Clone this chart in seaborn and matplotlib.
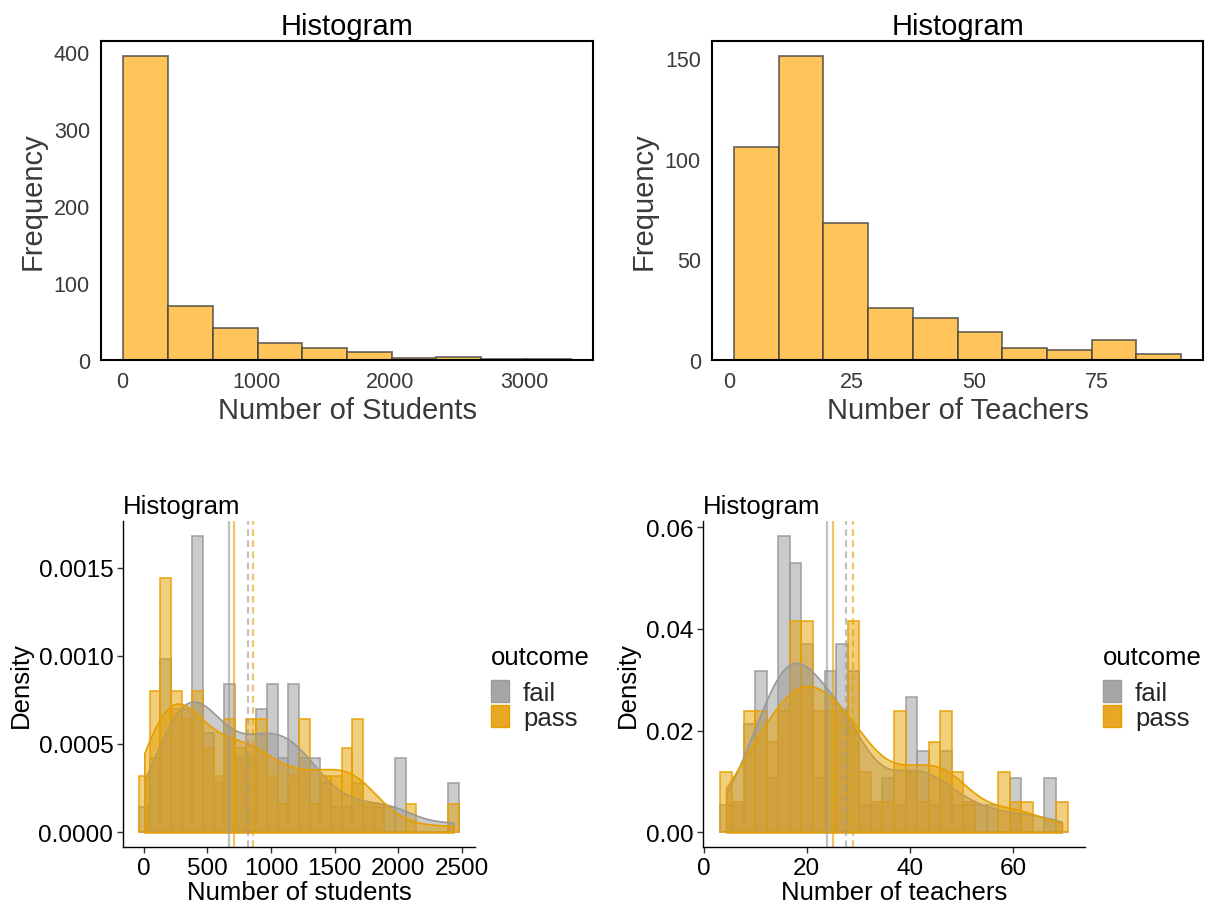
import numpy as np
import pandas as pd
import matplotlib
matplotlib.use("Agg")
import matplotlib.pyplot as plt
import seaborn as sns
from matplotlib.patches import Patch
from matplotlib.ticker import FormatStrFormatter

sns.set_theme(style="ticks")
plt.rcParams['font.family'] = ['Liberation Sans', 'DejaVu Sans']

# ---------------- data: top panels (frequency histograms) ----------------
students_bin_edges = [10, 344, 677, 1011, 1344, 1678, 2012, 2345, 2679, 3012, 3346]
students_counts = [395, 70, 42, 22, 16, 11, 2, 4, 1, 1]

teachers_bin_edges = [1.0, 10.1, 19.2, 28.4, 37.5, 46.6, 55.7, 64.8, 74.0, 83.1, 92.2]
teachers_counts = [106, 151, 68, 26, 21, 14, 6, 5, 10, 3]

# ---------------- data: bottom panels (density histograms by outcome) ----------------
outcomes = ["fail", "pass"]
stud_range = (-39, 2480)          # outer bin edges, 30 bins
stud_fail_density = [0.00014, 0.00042, 0.00098, 0.00070, 0.00070, 0.00168, 0.00056, 0.00028,
                     0.00084, 0.00042, 0.00042, 0.00070, 0.00084, 0.00042, 0.00084, 0.00042,
                     0.00042, 0.00028, 0.00014, 0.00014, 0.00028, 0.00014, 0.00014, 0.00014,
                     0.00042, 0.0, 0.0, 0.0, 0.0, 0.00028]
stud_pass_density = [0.00032, 0.00080, 0.00144, 0.00080, 0.00064, 0.00080, 0.00048, 0.00032,
                     0.00064, 0.00048, 0.00064, 0.00064, 0.00032, 0.00016, 0.00032, 0.00064,
                     0.00016, 0.00032, 0.00032, 0.00048, 0.00064, 0.00016, 0.00016, 0.0,
                     0.0, 0.00016, 0.0, 0.0, 0.0, 0.00016]
stud_median = [673, 712]   # fail, pass
stud_mean = [816, 858]

teach_range = (3.24, 70.6)
teach_fail_density = [0.0053, 0.0053, 0.0212, 0.0318, 0.0106, 0.0583, 0.0530, 0.0371, 0.0106,
                      0.0318, 0.0371, 0.0318, 0.0053, 0.0053, 0.0106, 0.0053, 0.0265, 0.0159,
                      0.0053, 0.0159, 0.0053, 0.0053, 0.0053, 0.0053, 0.0, 0.0106, 0.0, 0.0,
                      0.0106, 0.0]
teach_pass_density = [0.0119, 0.0059, 0.0238, 0.0238, 0.0178, 0.0238, 0.0416, 0.0416, 0.0238,
                      0.0238, 0.0238, 0.0416, 0.0119, 0.0059, 0.0059, 0.0238, 0.0119, 0.0059,
                      0.0178, 0.0238, 0.0119, 0.0059, 0.0, 0.0, 0.0119, 0.0059, 0.0059, 0.0,
                      0.0, 0.0059]
teach_median = [23.96, 25.0]
teach_mean = [27.6, 28.9]

# ---------------- styling ----------------
W, H = 1212, 904
fig = plt.figure(figsize=(W / 100, H / 100), dpi=100)

def fbox(l, t, r, b):
    return [l / W, 1 - b / H, (r - l) / W, (b - t) / H]

TOP_FILL = "#FFC55A"
TOP_EDGE = (0.25, 0.25, 0.25, 0.75)
GREY = "#999999"
ORANGE = "#E69F00"
colors = {"fail": GREY, "pass": ORANGE}
text_dark = "#3a3a3a"


def top_panel(ax, edges, counts, xlabel, xticks, yticks):
    edges = [float(e) for e in edges]
    centers = [(a + b) / 2 for a, b in zip(edges[:-1], edges[1:])]
    df = pd.DataFrame({"x": centers, "w": counts})
    sns.histplot(data=df, x="x", weights="w", bins=edges, stat="count", color=TOP_FILL,
                 alpha=1, edgecolor=TOP_EDGE, linewidth=1.3, ax=ax)
    ax.set_xticks(xticks)
    ax.set_yticks(yticks)
    ax.set_title("Histogram", fontsize=21, pad=5, color="black")
    ax.set_xlabel(xlabel, fontsize=21, labelpad=3, color=text_dark)
    ax.set_ylabel("Frequency", fontsize=21, labelpad=5, color=text_dark)
    ax.tick_params(axis="both", labelsize=15.5, labelcolor=text_dark, length=0, pad=8)
    for s in ax.spines.values():
        s.set_visible(True)
        s.set_color("black")
        s.set_linewidth(1.5)


def bottom_panel(ax, rng, dens_list, medians, means, xlabel, xticks, yticks, yfmt):
    edges = np.linspace(rng[0], rng[1], len(dens_list[0]) + 1)
    centers = (edges[:-1] + edges[1:]) / 2
    edges = [float(e) for e in edges]
    for grp, dens in zip(outcomes, dens_list):
        df = pd.DataFrame({"x": centers, "w": dens})
        sns.histplot(data=df, x="x", weights="w", bins=edges, stat="count", color=colors[grp],
                     alpha=0.5, edgecolor=matplotlib.colors.to_rgba(colors[grp], 0.85),
                     linewidth=1.2, ax=ax)
    for grp, dens in zip(outcomes, dens_list):
        df = pd.DataFrame({"x": centers, "w": dens})
        sns.kdeplot(data=df, x="x", weights="w", bw_method=0.33, cut=0, fill=True,
                    color=colors[grp], alpha=0.5, linewidth=1.2, ax=ax)
    for grp, med, mn in zip(outcomes, medians, means):
        ax.axvline(med, color=colors[grp], alpha=0.6, linewidth=1.6, linestyle="-")
        ax.axvline(mn, color=colors[grp], alpha=0.6, linewidth=1.6, linestyle=(0, (3, 2)))
    ymax = max(max(d) for d in dens_list)
    ax.set_ylim(-0.05 * ymax, 1.05 * ymax)
    ax.set_xticks(xticks)
    ax.set_yticks(yticks)
    ax.yaxis.set_major_formatter(FormatStrFormatter(yfmt))
    ax.set_title("Histogram", fontsize=18.5, loc="left", pad=6, color="black")
    ax.set_xlabel(xlabel, fontsize=18.5, labelpad=1, color="black")
    ax.set_ylabel("Density", fontsize=18.5, labelpad=4, color="black")
    ax.tick_params(axis="both", labelsize=17.5, labelcolor="black", length=4, width=1,
                   color="#333333", direction="out", pad=3)
    sns.despine(ax=ax)
    for s in ("left", "bottom"):
        ax.spines[s].set_color("black")
        ax.spines[s].set_linewidth(1.0)
    handles = [Patch(facecolor="#a6a6a6", edgecolor="#9c9c9c", linewidth=1.0),
               Patch(facecolor="#e9a726", edgecolor=ORANGE, linewidth=1.0)]
    return handles


ax1 = fig.add_axes(fbox(101, 42, 593, 361))
top_panel(ax1, students_bin_edges, students_counts, "Number of Students",
          [0, 1000, 2000, 3000], [0, 100, 200, 300, 400])

ax2 = fig.add_axes(fbox(712, 42, 1203, 361))
top_panel(ax2, teachers_bin_edges, teachers_counts, "Number of Teachers",
          [0, 25, 50, 75], [0, 50, 100, 150])

ax3 = fig.add_axes(fbox(123, 522, 475, 848))
h3 = bottom_panel(ax3, stud_range, [stud_fail_density, stud_pass_density], stud_median,
                  stud_mean, "Number of students", [0, 500, 1000, 1500, 2000, 2500],
                  [0, 0.0005, 0.0010, 0.0015], "%.4f")

ax4 = fig.add_axes(fbox(703, 522, 1085, 848))
h4 = bottom_panel(ax4, teach_range, [teach_fail_density, teach_pass_density], teach_median,
                  teach_mean, "Number of teachers", [0, 20, 40, 60],
                  [0, 0.02, 0.04, 0.06], "%.2f")

for ax, h, x0 in [(ax3, h3, 491), (ax4, h4, 1103)]:
    fig.text(x0 / W, 1 - 665 / H, "outcome", fontsize=18.5, ha="left", va="baseline",
             color="black")
    ax.legend(handles=h, labels=outcomes, loc="upper left",
              bbox_to_anchor=(x0 / W, 1 - 681 / H), bbox_transform=fig.transFigure,
              frameon=False, fontsize=18.5, handlelength=0.7,
              handleheight=0.95, labelspacing=0.0, handletextpad=0.55, borderpad=0,
              borderaxespad=0)

fig.savefig("out.png", dpi=100)
